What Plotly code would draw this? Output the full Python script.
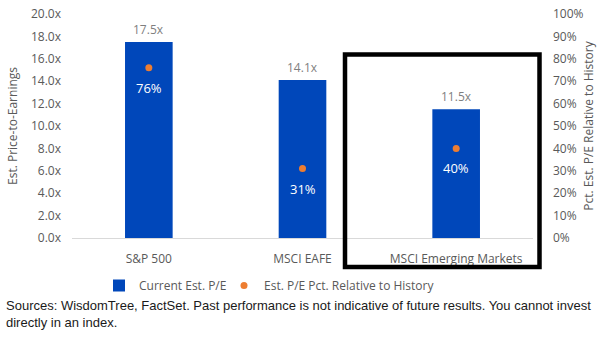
import plotly.graph_objects as go

categories = ["S&P 500", "MSCI EAFE", "MSCI Emerging Markets"]
pe_values = [17.5, 14.1, 11.5]
pct_values = [76, 31, 40]
left_ticks = [0, 2, 4, 6, 8, 10, 12, 14, 16, 18, 20]
right_ticks = [0, 10, 20, 30, 40, 50, 60, 70, 80, 90, 100]

W, H = 597, 350
L, R, T, B = 72, 533, 14, 238

def px_x(x):
    return (x - L) / (R - L)

def px_y(y):
    return (B - y) / (B - T)

font_main = "Open Sans, Noto Sans, sans-serif"
grey = "#595959"

fig = go.Figure()
fig.add_trace(go.Bar(
    x=categories, y=pe_values, name="Current Est. P/E",
    marker=dict(color="#0047BA", line=dict(width=0)),
    width=0.31, legend="legend",
))
fig.add_trace(go.Scatter(
    x=categories, y=pct_values, yaxis="y2", name="Est. P/E Pct. Relative to History",
    mode="markers",
    marker=dict(color="#ED7D31", size=7),
    cliponaxis=False, legend="legend2",
))

for c, v in zip(categories, pe_values):
    fig.add_annotation(x=c, y=v, xref="x", yref="y", text=f"{v:.1f}x", showarrow=False,
                       yanchor="bottom", yshift=2,
                       font=dict(color="#7f7f7f", size=12, family=font_main))
for c, v in zip(categories, pct_values):
    fig.add_annotation(x=c, y=v, xref="x", yref="y2", text=f"{v}%", showarrow=False,
                       yanchor="middle", yshift=-20,
                       font=dict(color="white", size=13, family=font_main))

fig.add_shape(type="rect", xref="paper", yref="paper",
              x0=px_x(345), x1=px_x(539.5), y0=px_y(267), y1=px_y(54.5),
              line=dict(color="black", width=4.5), fillcolor="rgba(0,0,0,0)")

fig.add_annotation(
    xref="paper", yref="paper", x=px_x(4), y=px_y(296), xanchor="left", yanchor="top",
    align="left", showarrow=False,
    text="Sources: WisdomTree, FactSet. Past performance is not indicative of future results. You cannot invest<br>directly in an index.",
    font=dict(family="Liberation Sans, Arial, sans-serif", size=13, color="#1a1a1a"),
)

leg_common = dict(orientation="h", yanchor="top", font=dict(size=12, color=grey),
                  itemwidth=30, bgcolor="rgba(0,0,0,0)")

fig.update_layout(
    width=W, height=H,
    margin=dict(l=L, r=W - R, t=T, b=H - B, autoexpand=False),
    paper_bgcolor="white", plot_bgcolor="white",
    font=dict(family=font_main, color=grey, size=12),
    showlegend=True,
    legend=dict(x=px_x(99), y=px_y(271), xanchor="left", **leg_common),
    legend2=dict(x=px_x(224), y=px_y(271), xanchor="left", **leg_common),
    xaxis=dict(showgrid=False, showline=True, linecolor="#d9d9d9", linewidth=1, automargin=False,
               ticks="", ticklabelstandoff=10, tickfont=dict(size=12, color=grey)),
    yaxis=dict(range=[0, 20], tickvals=left_ticks, ticktext=[f"{v:.1f}x" for v in left_ticks],
               showgrid=False, zeroline=False, ticks="", ticklabelstandoff=10, automargin=False,
               title=dict(text="Est. Price-to-Earnings", font=dict(size=12, color=grey), standoff=10)),
    yaxis2=dict(range=[0, 100], overlaying="y", side="right", tickvals=right_ticks, automargin=False,
                ticktext=[f"{v}%" for v in right_ticks], showgrid=False, zeroline=False,
                ticks="", ticklabelstandoff=19,
                title=dict(text="Pct. Est. P/E Relative to History", font=dict(size=12, color=grey), standoff=4)),
)

fig.write_html("out.html")
